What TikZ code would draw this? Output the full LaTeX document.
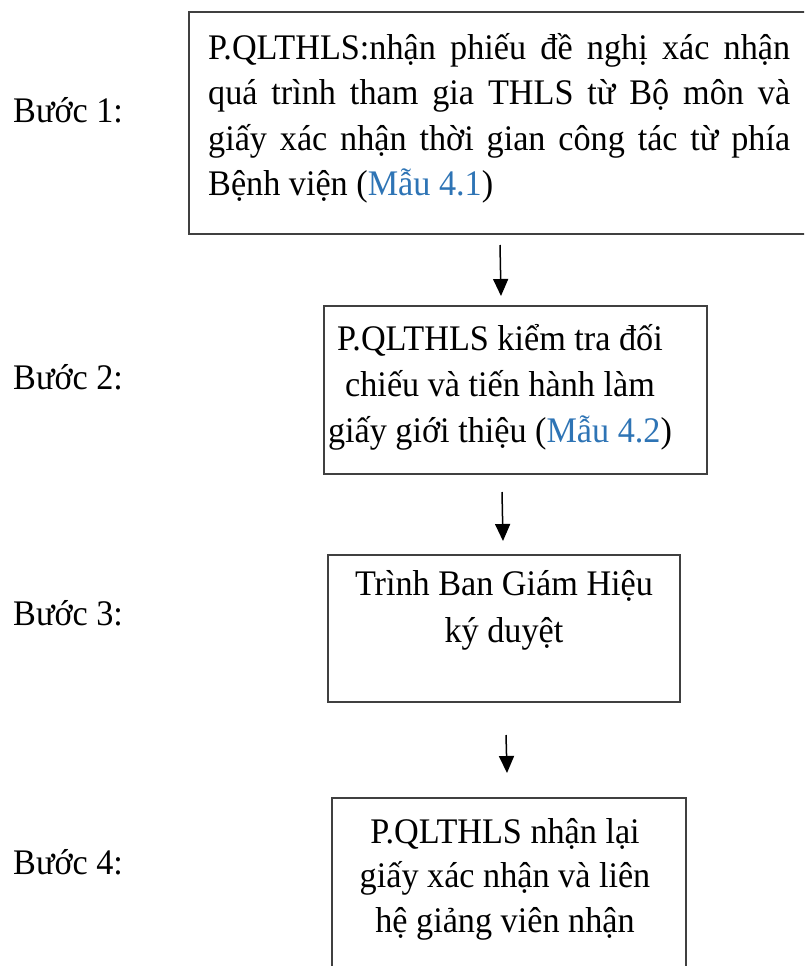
\documentclass[tikz,border=0pt]{standalone}
\usepackage{fontspec}
\setmainfont[FakeStretch=0.95]{Liberation Serif}
\usetikzlibrary{arrows.meta}
\definecolor{linkblue}{RGB}{46,116,181}
\definecolor{boxgray}{RGB}{64,64,64}
\setlength{\parindent}{0pt}
\newcommand{\mau}[1]{\textcolor{linkblue}{#1}}
\begin{document}
\begin{tikzpicture}[x=1pt,y=-1pt,
  boxrect/.style={draw=boxgray, line width=1.6pt, rectangle, inner sep=0pt, anchor=north west},
  bodytext/.style={inner sep=0pt, font=\fontsize{36}{46}\selectfont},
  steplabel/.style={inner sep=0pt, anchor=base west, font=\fontsize{36}{46}\selectfont},
  flowarrow/.style={draw=black, line width=1.5pt, -{Triangle[length=17pt,width=15pt]}}]
\useasboundingbox (0,0) rectangle (804,966);
\clip (0,0) rectangle (804,966);
% boxes
\node[boxrect, minimum width=640pt, minimum height=222pt] (b1) at (188,11) {};
\node[boxrect, minimum width=383pt, minimum height=168pt] (b2) at (323,305) {};
\node[boxrect, minimum width=352pt, minimum height=147pt] (b3) at (327,554) {};
\node[boxrect, minimum width=354pt, minimum height=190pt] (b4) at (331,797) {};
% box texts
\node[bodytext, font=\fontsize{36}{45.5}\selectfont, anchor=north west, text width=582pt, align=justify] (t1) at (208,19)
 {\rule{0pt}{40pt}P.QLTHLS:nhận phiếu đề nghị xác nhận\linebreak quá trình tham gia THLS từ Bộ môn và\linebreak giấy xác nhận thời gian công tác từ phía\linebreak Bệnh viện (\mau{Mẫu 4.1})};
\node[bodytext, anchor=north, align=center] (t2) at (500,310)
 {\rule{0pt}{40pt}P.QLTHLS kiểm tra đối\\chiếu và tiến hành làm\\giấy giới thiệu (\mau{Mẫu 4.2})};
\node[bodytext, font=\fontsize{36}{47}\selectfont, anchor=north, align=center] (t3) at (504,555)
 {\rule{0pt}{40pt}Trình Ban Giám Hiệu\\ký duyệt};
\node[bodytext, font=\fontsize{36}{44.5}\selectfont, anchor=north, align=center] (t4) at (505,803)
 {\rule{0pt}{40pt}P.QLTHLS nhận lại\\giấy xác nhận và liên\\hệ giảng viên nhận};
% step labels
\node[steplabel] (s1) at (13,122) {Bước 1:};
\node[steplabel] (s2) at (13,389) {Bước 2:};
\node[steplabel] (s3) at (13,625) {Bước 3:};
\node[steplabel] (s4) at (13,874) {Bước 4:};
% arrows
\coordinate (a1s) at (500,245);
\coordinate (a1e) at (501,296);
\coordinate (a2s) at (502,492);
\coordinate (a2e) at (503,541);
\coordinate (a3s) at (506,735);
\coordinate (a3e) at (507,773);
\draw[flowarrow] (a1s) -- (a1e);
\draw[flowarrow] (a2s) -- (a2e);
\draw[flowarrow] (a3s) -- (a3e);
\end{tikzpicture}
\end{document}
